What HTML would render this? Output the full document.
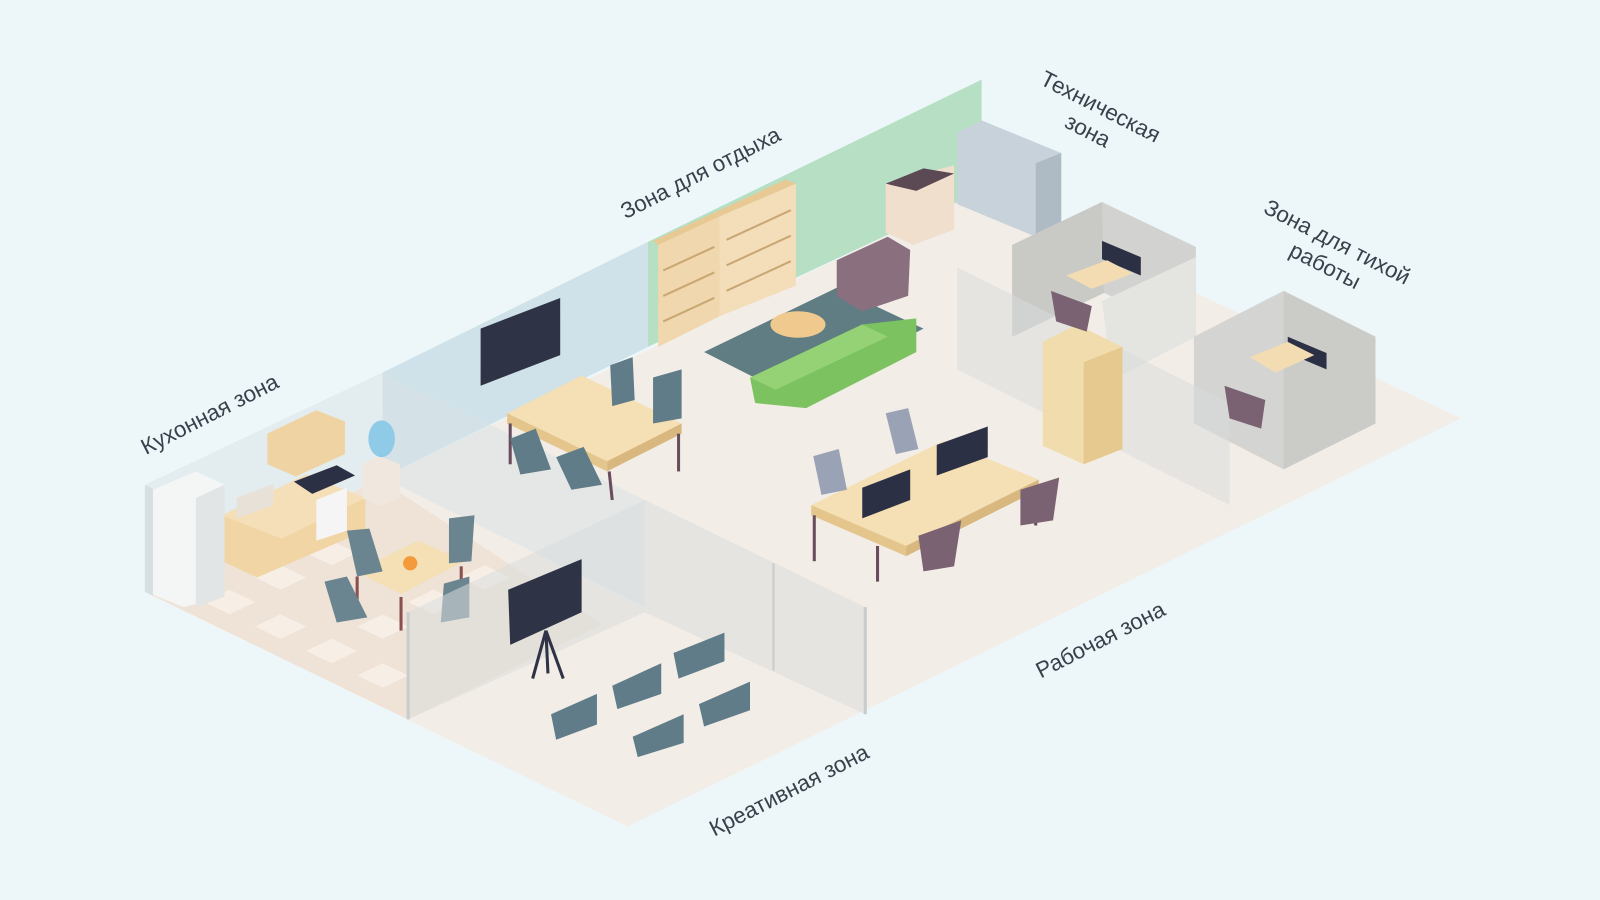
<!DOCTYPE html>
<html><head><meta charset="utf-8"><style>
html,body{margin:0;padding:0;background:#edf7fa;}
svg{display:block}
text{font-family:"Liberation Sans",sans-serif;fill:#3a404c;font-size:22px}
</style></head><body>
<svg width="1600" height="900" viewBox="0 0 1600 900" xmlns="http://www.w3.org/2000/svg">
<rect width="1600" height="900" fill="#edf7fa"/>
<g transform="scale(1.0204)">
<!-- floor -->
<polygon points="142,580 615,810 1432,410 960,187" fill="#f3ede7"/>
<!-- kitchen checker floor -->
<polygon points="142,580 400,705 590,612 372,470" fill="#efe2d6"/>
<g fill="#f7efe6">
<polygon points="200,590 225,602 250,590 225,578"/><polygon points="250,614 275,626 300,614 275,602"/>
<polygon points="300,638 325,650 350,638 325,626"/><polygon points="250,566 275,578 300,566 275,554"/>
<polygon points="350,614 375,626 400,614 375,602"/><polygon points="400,590 425,602 450,590 425,578"/>
<polygon points="450,566 475,578 500,566 475,554"/><polygon points="300,542 325,554 350,542 325,530"/>
<polygon points="350,662 375,674 400,662 375,650"/><polygon points="500,590 525,602 550,590 525,578"/>
</g>
<!-- back walls -->
<polygon points="142,475 375,365 375,468 142,580" fill="#e3ecef"/>
<polygon points="375,365 635,237 635,340 375,468" fill="#cfe2e9"/>
<polygon points="635,237 962,78 962,187 635,340" fill="#b6dfc3"/>
<polygon points="142,475 142,580 150,584 150,479" fill="#d6dfe2"/>
<!-- glass partition kitchen/middle -->
<polygon points="375,365 632,490 632,595 375,468" fill="#d9e2e5" opacity="0.55"/>
<!-- rug -->
<polygon points="690,345 820,282 905,322 775,388" fill="#5f7d82"/>
<!-- bookshelves -->
<polygon points="645,240 705,212 705,310 645,340" fill="#f0d7ad"/>
<polygon points="705,212 780,180 780,280 705,310" fill="#f3deb9"/>
<polygon points="645,240 705,212 780,180 770,176 640,236" fill="#e8c893"/>
<g stroke="#c9a774" stroke-width="2"><line x1="650" y1="265" x2="700" y2="242"/><line x1="650" y1="290" x2="700" y2="267"/><line x1="650" y1="315" x2="700" y2="292"/><line x1="712" y1="235" x2="775" y2="206"/><line x1="712" y1="260" x2="775" y2="231"/><line x1="712" y1="285" x2="775" y2="256"/></g>
<!-- armchair -->
<polygon points="820,255 870,232 892,245 890,290 845,305 820,290" fill="#8a6f7e"/>
<!-- coffee table -->
<ellipse cx="782" cy="318" rx="27" ry="13" fill="#f0c98f"/>
<!-- sofa -->
<polygon points="735,370 845,318 898,312 898,345 790,400 740,395" fill="#7cc260"/>
<polygon points="735,370 845,318 870,330 760,382" fill="#95d276"/>
<!-- TV -->
<polygon points="471,322 549,292 549,348 471,378" fill="#2f3346"/>
<!-- printer & cabinets -->
<polygon points="868,180 935,162 935,225 895,240 868,228" fill="#f0dfcc"/>
<polygon points="868,180 905,165 935,170 898,187" fill="#5b4a54"/>
<polygon points="938,130 962,118 1040,150 1040,225 1015,232 938,200" fill="#c7d2da"/>
<polygon points="1015,160 1040,150 1040,225 1015,232" fill="#aebbc5"/>
<!-- cubicles -->
<polygon points="992,240 1080,198 1172,242 1172,330 1082,287 992,330" fill="#d2d3d0"/>
<polygon points="992,240 1080,198 1082,287 992,330" fill="#c9cac6"/>
<polygon points="1080,295 1172,252 1172,330 1090,372" fill="#e4e4e1"/>
<polygon points="1170,330 1258,285 1348,330 1348,415 1258,460 1170,415" fill="#d4d5d2"/>
<polygon points="1258,285 1348,330 1348,415 1258,460" fill="#cbccc8"/>
<polygon points="1080,236 1118,252 1118,270 1080,254" fill="#2c3044"/>
<polygon points="1262,330 1300,346 1300,362 1262,346" fill="#2c3044"/>
<polygon points="1045,270 1085,255 1110,268 1070,283" fill="#f4dcb2"/>
<polygon points="1225,350 1262,335 1288,348 1250,365" fill="#f4dcb2"/>
<!-- glass partitions right -->
<polygon points="938,262 1205,395 1205,495 938,362" fill="#d8dbdb" opacity="0.5"/>
<!-- wardrobe -->
<polygon points="1022,335 1055,318 1100,340 1100,440 1062,455 1022,437" fill="#f1dcae"/>
<polygon points="1062,355 1100,340 1100,440 1062,455" fill="#e5c98f"/>
<!-- meeting table -->
<polygon points="497,405 570,368 668,415 595,452" fill="#f5dfb4"/>
<polygon points="497,405 595,452 595,462 497,415" fill="#e4c68d"/>
<polygon points="595,452 668,415 668,425 595,462" fill="#d9b87f"/>
<g stroke="#6a4d5c" stroke-width="3"><line x1="500" y1="415" x2="500" y2="455"/><line x1="597" y1="462" x2="600" y2="490"/><line x1="665" y1="425" x2="665" y2="462"/></g>
<g fill="#607c88"><polygon points="598,358 620,350 622,392 600,398"/><polygon points="640,370 668,362 668,410 640,415"/><polygon points="500,430 525,420 540,460 510,465"/><polygon points="545,448 572,438 590,475 560,480"/></g>
<!-- work desks -->
<polygon points="795,495 925,432 1018,470 888,535" fill="#f5dfb4"/>
<polygon points="795,495 888,535 888,545 795,505" fill="#e4c68d"/>
<polygon points="888,535 1018,470 1018,480 888,545" fill="#d9b87f"/>
<g stroke="#6a4d5c" stroke-width="3"><line x1="798" y1="505" x2="798" y2="550"/><line x1="860" y1="535" x2="860" y2="570"/><line x1="1015" y1="480" x2="1015" y2="515"/></g>
<g fill="#2c3044"><polygon points="845,478 892,460 892,490 845,508"/><polygon points="918,436 968,418 968,448 918,466"/></g>
<g fill="#9aa3b6"><polygon points="797,447 822,440 830,480 805,485"/><polygon points="868,405 890,400 900,440 878,445"/></g>
<g fill="#7b6272"><polygon points="1000,480 1038,468 1032,510 1000,515"/><polygon points="900,525 942,510 935,555 905,560"/><polygon points="1030,285 1070,300 1065,325 1035,315"/><polygon points="1200,378 1240,392 1236,420 1205,410"/></g>
<!-- kitchen -->
<polygon points="262,425 310,402 338,413 338,445 290,467 262,455" fill="#f0d3a3"/>
<polygon points="218,505 300,465 358,488 358,520 252,566 218,550" fill="#f1d5a4"/>
<polygon points="218,505 300,465 358,488 276,528" fill="#f5dfb8"/>
<polygon points="288,472 330,456 348,466 306,484" fill="#2c3044"/>
<polygon points="310,490 340,478 340,520 310,530" fill="#f5f5f5"/>
<polygon points="232,488 268,474 268,495 232,508" fill="#e8e1d8"/>
<polygon points="150,480 192,462 220,475 220,585 180,595 150,583" fill="#f4f5f5"/>
<polygon points="192,488 220,475 220,585 192,595" fill="#e2e5e6"/>
<polygon points="355,455 372,447 392,455 392,488 372,496 355,488" fill="#f0e7df"/>
<ellipse cx="374" cy="430" rx="13" ry="18" fill="#8fcbe6"/>
<!-- kitchen table -->
<polygon points="348,560 410,530 455,550 393,582" fill="#f5dfb4"/>
<g stroke="#8a4f4f" stroke-width="3"><line x1="350" y1="565" x2="350" y2="595"/><line x1="393" y1="585" x2="393" y2="618"/><line x1="452" y1="555" x2="452" y2="585"/></g>
<circle cx="402" cy="552" r="7" fill="#f39a3c"/>
<g fill="#6b8590"><polygon points="340,520 362,518 375,560 350,565"/><polygon points="440,508 465,505 462,550 440,552"/><polygon points="318,570 340,565 360,605 330,610"/><polygon points="435,572 460,565 460,605 432,610"/></g>
<!-- creative room glass -->
<polygon points="400,600 632,490 632,600 400,705" fill="#d9dcdc" opacity="0.55"/>
<polygon points="632,490 848,595 848,700 632,600" fill="#d9dcdc" opacity="0.55"/>
<line x1="400" y1="600" x2="400" y2="705" stroke="#c8cccc" stroke-width="3"/>
<line x1="758" y1="552" x2="758" y2="657" stroke="#c8cccc" stroke-width="2"/>
<line x1="848" y1="595" x2="848" y2="700" stroke="#c8cccc" stroke-width="3"/>
<!-- whiteboard -->
<polygon points="498,578 570,548 570,600 500,632" fill="#2f3346"/>
<g stroke="#2f3346" stroke-width="3"><line x1="535" y1="618" x2="522" y2="665"/><line x1="535" y1="618" x2="552" y2="665"/><line x1="535" y1="618" x2="537" y2="660"/></g>
<g fill="#607c88"><polygon points="540,700 585,680 585,710 545,725"/><polygon points="600,672 648,650 648,680 605,695"/><polygon points="660,640 710,620 710,648 665,665"/><polygon points="620,722 670,700 670,728 625,742"/><polygon points="685,690 735,668 735,696 690,712"/></g>
<!-- labels -->
<text transform="translate(143,446) rotate(-27)">Кухонная зона</text>
<text transform="translate(613,215) rotate(-27)">Зона для отдыха</text>
<text transform="translate(1018,82) rotate(27)">Техническая</text>
<text transform="translate(1042,124) rotate(27)">зона</text>
<text transform="translate(1237,208) rotate(27)">Зона для тихой</text>
<text transform="translate(1262,250) rotate(27)">работы</text>
<text transform="translate(1020,665) rotate(-27)">Рабочая зона</text>
<text transform="translate(700,820) rotate(-27)">Креативная зона</text>
</g>
</svg>
</body></html>
